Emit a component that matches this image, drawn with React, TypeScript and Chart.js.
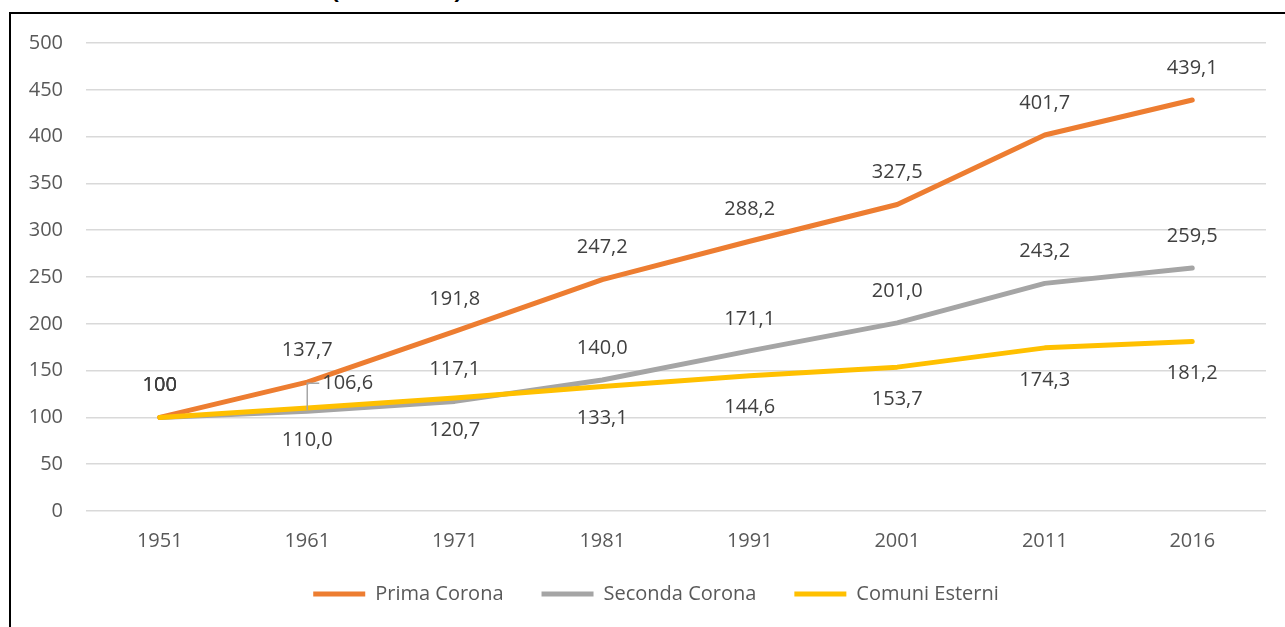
import React, { useEffect, useRef } from "react";
import { Chart, registerables } from "chart.js";

Chart.register(...registerables);

const years = ["1951", "1961", "1971", "1981", "1991", "2001", "2011", "2016"];
const primaCorona = [100, 137.7, 191.8, 247.2, 288.2, 327.5, 401.7, 439.1];
const secondaCorona = [100, 106.6, 117.1, 140.0, 171.1, 201.0, 243.2, 259.5];
const comuniEsterni = [100, 110.0, 120.7, 133.1, 144.6, 153.7, 174.3, 181.2];
const seriesNames = ["Prima Corona", "Seconda Corona", "Comuni Esterni"];
const yTicks = [0, 50, 100, 150, 200, 250, 300, 350, 400, 450, 500];

const COLORS = ["#ED7D31", "#A5A5A5", "#FFC000"];
const FONT = "'Open Sans', 'Noto Sans', sans-serif";

const fmt = (v: number, i: number) => (i === 0 ? String(Math.round(v)) : v.toFixed(1).replace(".", ","));

// label placement per dataset: "above" | "below" | "callout"
const placement = (ds: number, i: number): string => {
  if (ds === 0) return "above";
  if (ds === 1) return i === 1 ? "callout" : "above";
  return i === 0 ? "above" : "below";
};

const labelPlugin = {
  id: "valueLabels",
  afterDatasetsDraw(chart: any) {
    const ctx = chart.ctx;
    ctx.save();
    ctx.font = `20px ${FONT}`;
    ctx.fillStyle = "#404040";
    chart.data.datasets.forEach((ds: any, di: number) => {
      const meta = chart.getDatasetMeta(di);
      meta.data.forEach((pt: any, i: number) => {
        const v = ds.data[i];
        const text = fmt(v, i);
        const p = placement(di, i);
        if (p === "callout") {
          ctx.strokeStyle = "#A6A6A6";
          ctx.lineWidth = 1.5;
          ctx.beginPath();
          ctx.moveTo(pt.x, pt.y - 1);
          ctx.lineTo(pt.x, pt.y - 28);
          ctx.lineTo(pt.x + 12, pt.y - 28);
          ctx.stroke();
          ctx.textAlign = "left";
          ctx.textBaseline = "middle";
          ctx.fillText(text, pt.x + 15, pt.y - 28);
        } else {
          ctx.textAlign = "center";
          ctx.textBaseline = "middle";
          ctx.fillText(text, pt.x, p === "above" ? pt.y - 32 : pt.y + 32);
        }
      });
    });
    ctx.restore();
  },
};

const legendShift = {
  id: "legendShift",
  afterLayout(chart: any) {
    const lg = chart.legend;
    if (lg) {
      lg.left += 17;
      lg.right += 17;
      lg.top -= 7;
      lg.bottom -= 7;
    }
  },
};

export default function App() {
  const ref = useRef<HTMLCanvasElement | null>(null);

  useEffect(() => {
    if (!ref.current) return;
    const seriesData = [primaCorona, secondaCorona, comuniEsterni];
    const orders = [1, 2, 0];
    const chart = new Chart(ref.current, {
      type: "line",
      data: {
        labels: years,
        datasets: seriesData.map((d, i) => ({
          label: seriesNames[i],
          data: d,
          borderColor: COLORS[i],
          backgroundColor: COLORS[i],
          borderWidth: 5,
          borderCapStyle: "round",
          borderJoinStyle: "round",
          pointRadius: 0,
          pointHoverRadius: 0,
          tension: 0,
          fill: false,
          order: orders[i],
        })),
      },
      options: {
        responsive: false,
        animation: false,
        events: [],
        layout: { padding: { top: 15, right: 19, bottom: 6, left: 0 } },
        scales: {
          x: {
            type: "category",
            offset: true,
            grid: { display: false, drawTicks: false },
            border: { display: false },
            ticks: {
              padding: 18,
              color: "#595959",
              font: { family: FONT, size: 20 },
              maxRotation: 0,
            },
            afterFit(scale: any) {
              scale.height = 42;
            },
          },
          y: {
            min: 0,
            max: 500,
            afterBuildTicks(scale: any) {
              scale.ticks = yTicks.map((v) => ({ value: v }));
            },
            grid: { color: "#D9D9D9", lineWidth: 1.5, drawTicks: false },
            border: { display: false },
            ticks: {
              padding: 23,
              color: "#595959",
              font: { family: FONT, size: 20 },
            },
            afterFit(scale: any) {
              scale.width = 74;
            },
          },
        },
        plugins: {
          legend: {
            position: "bottom",
            labels: {
              usePointStyle: true,
              pointStyle: "line",
              pointStyleWidth: 52,
              padding: 38,
              color: "#595959",
              font: { family: FONT, size: 20 },
              sort: (a: any, b: any) => a.datasetIndex - b.datasetIndex,
            },
          },
          tooltip: { enabled: false },
          title: { display: false },
        },
      },
      plugins: [labelPlugin, legendShift],
    } as any);
    return () => chart.destroy();
  }, []);

  return (
    <div
      style={{
        position: "fixed",
        left: 0,
        top: 0,
        width: 1285,
        height: 627,
        overflow: "hidden",
        background: "#fff",
      }}
    >
      <div
        style={{
          position: "absolute",
          left: 331,
          top: -27,
          fontFamily: FONT,
          fontWeight: 700,
          fontSize: 25,
          lineHeight: "30px",
          color: "#000",
          whiteSpace: "nowrap",
        }}
      >
        (1951=100)
      </div>
      <div
        style={{
          position: "absolute",
          left: 9,
          top: 12,
          width: 1400,
          height: 800,
          border: "2px solid #000",
          boxSizing: "border-box",
        }}
      />
      <canvas
        ref={ref}
        width={1273}
        height={619}
        style={{ position: "absolute", left: 12, top: 8, width: 1273, height: 619 }}
      />
    </div>
  );
}
